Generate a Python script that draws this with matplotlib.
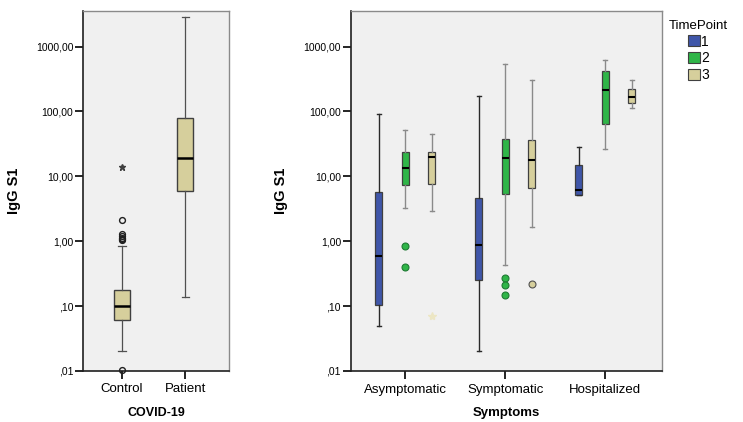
import matplotlib
matplotlib.use("Agg")
import matplotlib.pyplot as plt
from matplotlib.patches import Patch

plt.rcParams['font.family'] = ['Liberation Sans', 'DejaVu Sans']

# ---- COVID-19 status panel: box statistics of IgG S1 ----
covid_groups = ["Control", "Patient"]
covid_whislo = [0.020, 0.14]
covid_q1 = [0.061, 5.9]
covid_med = [0.10, 18.9]
covid_q3 = [0.179, 78.0]
covid_whishi = [0.84, 2870.0]
covid_outliers = [[0.0105, 1.04, 1.09, 1.14, 1.20, 1.27, 2.1], []]
covid_extremes = [[14.1], []]

# ---- Symptoms panel: rows = time points, columns = symptom groups ----
symptom_groups = ["Asymptomatic", "Symptomatic", "Hospitalized"]
timepoints = ["1", "2", "3"]
sym_whislo = [[0.049, 0.0203, 5.15], [3.25, 0.435, 26.4], [2.92, 1.66, 113.0]]
sym_q1 = [[0.104, 0.25, 5.15], [7.3, 5.33, 64.7], [7.5, 6.6, 135.0]]
sym_med = [[0.59, 0.88, 6.2], [13.6, 19.4, 216.0], [19.6, 18.0, 165.0]]
sym_q3 = [[5.73, 4.63, 14.8], [23.4, 37.6, 415.0], [23.4, 35.8, 224.0]]
sym_whishi = [[92.0, 175.0, 28.6], [52.0, 537.0, 627.0], [45.0, 308.0, 301.0]]
sym_outliers = [[[], [], []], [[0.83, 0.40], [0.27, 0.21, 0.148], []], [[], [0.219], []]]
sym_extremes = [[[], [], []], [[], [], []], [[0.07], [], []]]

ytick_vals = [0.01, 0.1, 1, 10, 100, 1000]
ytick_labels = [",01", ",10", "1,00", "10,00", "100,00", "1000,00"]

tp_colors = ["#3f56a9", "#2fb548", "#d6cf9c"]
tp_whisker_colors = ["#2a2a2a", "#8a8a8a", "#8a8a8a"]
tan = "#d6cf9c"
bg = "#f0f0f0"


def style_axes(ax):
    ax.set_facecolor(bg)
    ax.set_yscale("log")
    ax.set_ylim(0.01, 3524)
    ax.set_yticks(ytick_vals, ytick_labels)
    ax.yaxis.set_minor_locator(matplotlib.ticker.NullLocator())
    ax.tick_params(axis="y", labelsize=7.5, length=6, width=1.2, pad=1, direction="out")
    ax.tick_params(axis="x", labelsize=9.5, length=6, width=1.2, pad=3, direction="out")
    for s in ("left", "bottom"):
        ax.spines[s].set_color("#202020")
        ax.spines[s].set_linewidth(1.2)
    for s in ("top", "right"):
        ax.spines[s].set_color("#8a8a8a")
        ax.spines[s].set_linewidth(1.0)


fig = plt.figure(figsize=(7.43, 4.22), dpi=100)
ax1 = fig.add_axes([83 / 743, 51 / 422, 146 / 743, 360 / 422])
ax2 = fig.add_axes([350.7 / 743, 51 / 422, 311 / 743, 360 / 422])

# Left panel
stats1 = []
for i in range(len(covid_groups)):
    stats1.append(dict(whislo=covid_whislo[i], q1=covid_q1[i], med=covid_med[i],
                       q3=covid_q3[i], whishi=covid_whishi[i], fliers=[]))
pos1 = [1, 2]
ax1.bxp(stats1, positions=pos1, widths=0.25, patch_artist=True, showfliers=False,
        boxprops=dict(facecolor=tan, edgecolor="#404040", linewidth=1.0),
        medianprops=dict(color="black", linewidth=1.8),
        whiskerprops=dict(color="#505050", linewidth=0.9),
        capprops=dict(color="#505050", linewidth=0.9), capwidths=0.12)
for p, outs, ext in zip(pos1, covid_outliers, covid_extremes):
    if outs:
        ax1.plot([p] * len(outs), outs, "o", ms=4.2, mfc="none", mec="#202020",
                 mew=1.0, clip_on=False, zorder=5)
    if ext:
        ax1.plot([p] * len(ext), ext, "*", ms=4.5, color="#404040", zorder=5)
ax1.set_xlim(0.383, 2.69)
ax1.set_xticks(pos1, covid_groups)
style_axes(ax1)
ax1.set_ylabel("IgG S1", fontsize=10.5, fontweight="bold")
ax1.yaxis.set_label_coords(-0.425, 0.5)
ax1.set_xlabel("COVID-19", fontsize=9, fontweight="bold")
ax1.xaxis.set_label_coords(0.5, -0.10)

# Right panel
offsets = [-0.265, 0.0, 0.265]
for t in range(len(timepoints)):
    stats = []
    for g in range(len(symptom_groups)):
        stats.append(dict(whislo=sym_whislo[t][g], q1=sym_q1[t][g], med=sym_med[t][g],
                          q3=sym_q3[t][g], whishi=sym_whishi[t][g], fliers=[]))
    pos = [g + offsets[t] for g in range(len(symptom_groups))]
    ax2.bxp(stats, positions=pos, widths=0.07, patch_artist=True, showfliers=False,
            boxprops=dict(facecolor=tp_colors[t], edgecolor="#404040", linewidth=0.9),
            medianprops=dict(color="black", linewidth=1.5),
            whiskerprops=dict(color=tp_whisker_colors[t], linewidth=1.0),
            capprops=dict(color=tp_whisker_colors[t], linewidth=1.0), capwidths=0.04)
    for g in range(len(symptom_groups)):
        outs = sym_outliers[t][g]
        if outs:
            ax2.plot([pos[g]] * len(outs), outs, "o", ms=5, mfc=tp_colors[t],
                     mec="#1f7a33" if t == 1 else "#505050", mew=0.8, zorder=5)
        ext = sym_extremes[t][g]
        if ext:
            ax2.plot([pos[g]] * len(ext), ext, "*", ms=6, color="#ece6c4", zorder=5)
ax2.set_xlim(-0.546, 2.564)
ax2.set_xticks(range(len(symptom_groups)), symptom_groups)
style_axes(ax2)
ax2.set_ylabel("IgG S1", fontsize=10.5, fontweight="bold")
ax2.yaxis.set_label_coords(-0.2016, 0.5)
ax2.set_xlabel("Symptoms", fontsize=9.5, fontweight="bold")
ax2.xaxis.set_label_coords(0.5, -0.10)

handles = [Patch(facecolor=c, edgecolor="#404040", linewidth=0.8) for c in tp_colors]
leg = fig.legend(handles, timepoints, title="TimePoint", loc="upper left",
                 bbox_to_anchor=(659 / 743, 1 - 10 / 422), frameon=False,
                 fontsize=10, title_fontsize=9.5, handlelength=0.9, handleheight=0.9,
                 handletextpad=0.05, labelspacing=0.2, borderpad=0.2)

fig.savefig("out.png", dpi=100, facecolor="white")
